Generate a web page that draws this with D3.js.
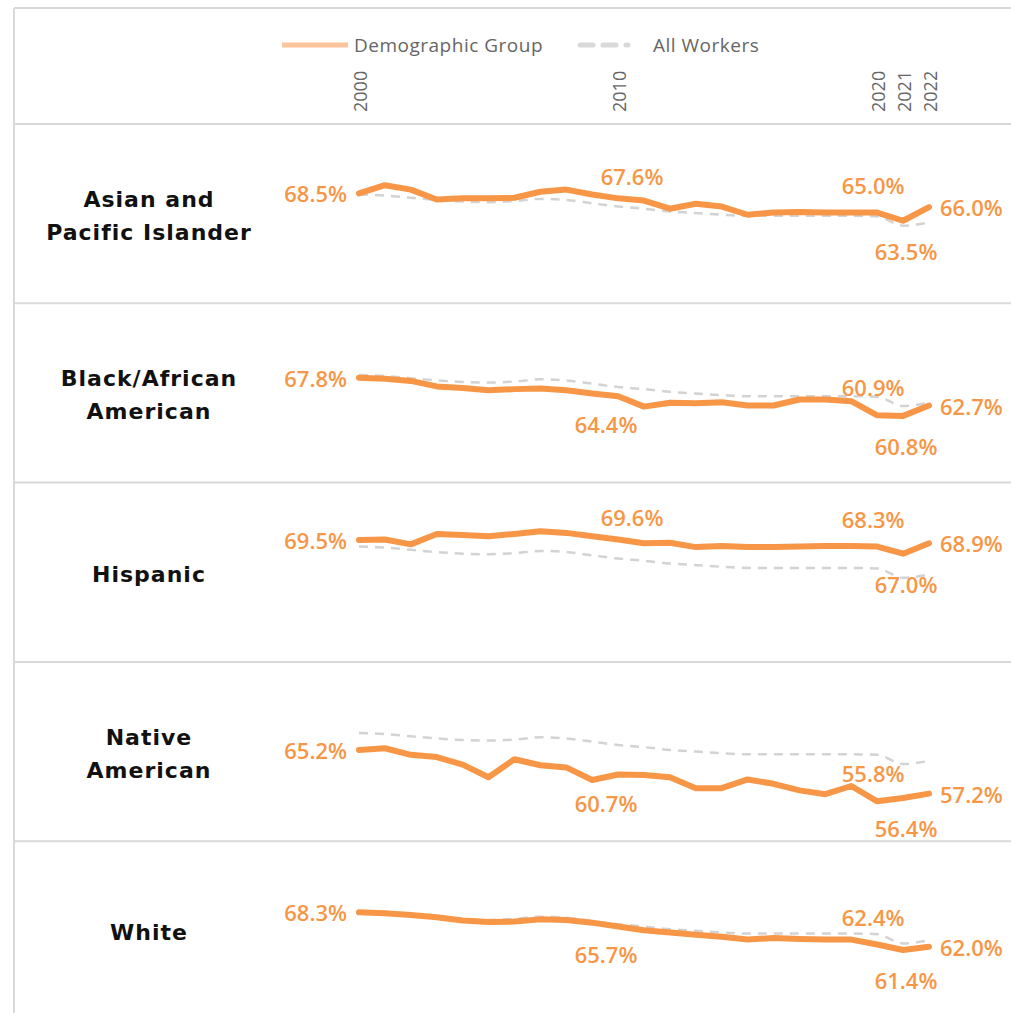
<!DOCTYPE html>
<html>
<head>
<meta charset="utf-8">
<script src="https://cdn.jsdelivr.net/npm/d3@7"></script>
<style>
  body { margin: 0; background: #ffffff; }
  .row-label { font-family: "DejaVu Sans", sans-serif; font-weight: bold; font-size: 22px; letter-spacing: 1px; fill: #111; }
  .val { font-family: "Open Sans", sans-serif; font-weight: 600; font-size: 22px; fill: #f79646; }
  .legend { font-family: "Open Sans", sans-serif; font-size: 19px; letter-spacing: 0.5px; fill: #666; }
  .year { font-family: "Open Sans", sans-serif; font-size: 18px; fill: #666; }
</style>
</head>
<body>
<div id="vis"></div>
<script>
const FRAME_WIDTH = 1011;
const FRAME_HEIGHT = 1013;

// data
const years = [2000, 2001, 2002, 2003, 2004, 2005, 2006, 2007, 2008, 2009, 2010,
               2011, 2012, 2013, 2014, 2015, 2016, 2017, 2018, 2019, 2020, 2021, 2022];
const tickYears = [2000, 2010, 2020, 2021, 2022];
const groups = ["Asian and|Pacific Islander", "Black/African|American", "Hispanic", "Native|American", "White"];

const asian    = [68.5, 70.0, 69.2, 67.4, 67.6, 67.6, 67.7, 68.8, 69.2, 68.3, 67.6, 67.2, 65.7, 66.6, 66.1, 64.6, 65.0, 65.1, 65.0, 65.0, 65.0, 63.5, 66.0];
const black    = [67.8, 67.6, 67.2, 66.2, 65.9, 65.5, 65.7, 65.8, 65.5, 64.9, 64.4, 62.5, 63.2, 63.1, 63.3, 62.7, 62.7, 63.8, 63.8, 63.5, 60.9, 60.8, 62.7];
const hispanic = [69.5, 69.6, 68.7, 70.6, 70.4, 70.2, 70.6, 71.1, 70.8, 70.2, 69.6, 68.9, 69.0, 68.2, 68.4, 68.2, 68.2, 68.3, 68.4, 68.4, 68.3, 67.0, 68.9];
const native   = [65.2, 65.5, 64.3, 63.9, 62.5, 60.2, 63.5, 62.4, 62.0, 59.7, 60.7, 60.6, 60.2, 58.2, 58.2, 59.8, 59.0, 57.8, 57.1, 58.6, 55.8, 56.4, 57.2];
const white    = [68.3, 68.1, 67.8, 67.4, 66.8, 66.5, 66.6, 67.0, 66.9, 66.4, 65.7, 65.0, 64.6, 64.2, 63.8, 63.3, 63.6, 63.4, 63.3, 63.3, 62.4, 61.4, 62.0];
const allWorkers = [68.3, 68.1, 67.7, 67.3, 67.0, 66.9, 67.1, 67.5, 67.3, 66.7, 66.1, 65.7, 65.2, 64.9, 64.6, 64.4, 64.4, 64.4, 64.4, 64.4, 64.3, 62.6, 63.2];
const series = [asian, black, hispanic, native, white];

// each panel has its own axis top (separate charts in the original)
const axisMax = [81.2, 81.4, 80.0, 81.3, 81.3];
const AXIS_SPAN = 32.8;
const labelYears = [2000, 2010, 2020, 2021, 2022];

const ROW_TOP = 124;
const ROW_H = 179.3;
const ORANGE = "#f79646";
const GRID = "#d9d9d9";

const svg = d3.select("#vis")
              .append("svg")
              .attr("width", FRAME_WIDTH)
              .attr("height", FRAME_HEIGHT);

const X = d3.scaleLinear().domain([2000, 2022]).range([359, 929]);

// frame lines
svg.append("line").attr("x1", 14).attr("x2", 14).attr("y1", 8).attr("y2", FRAME_HEIGHT)
   .attr("stroke", GRID).attr("stroke-width", 2);
svg.append("line").attr("x1", 14).attr("x2", FRAME_WIDTH).attr("y1", 8).attr("y2", 8)
   .attr("stroke", GRID).attr("stroke-width", 2);
groups.forEach((g, i) => {
  const y = ROW_TOP + i * ROW_H;
  svg.append("line").attr("x1", 14).attr("x2", FRAME_WIDTH).attr("y1", y).attr("y2", y)
     .attr("stroke", GRID).attr("stroke-width", 2);
});

// legend
const leg = svg.append("g");
leg.append("line").attr("x1", 282).attr("x2", 348).attr("y1", 45).attr("y2", 45)
   .attr("stroke", "#fbc49a").attr("stroke-width", 5);
leg.append("text").attr("class", "legend").attr("x", 354).attr("y", 45)
   .attr("dominant-baseline", "central").text("Demographic Group");
leg.append("line").attr("x1", 580).attr("x2", 628).attr("y1", 45).attr("y2", 45)
   .attr("stroke", GRID).attr("stroke-width", 5).attr("stroke-dasharray", "13,10")
   .attr("stroke-linecap", "round");
leg.append("text").attr("class", "legend").attr("x", 653).attr("y", 45)
   .attr("dominant-baseline", "central").text("All Workers");

// year ticks (rotated)
svg.selectAll(".year")
   .data(tickYears)
   .enter().append("text")
   .attr("class", "year")
   .attr("transform", d => "translate(" + (X(d) + 1) + ",112) rotate(-90)")
   .attr("dominant-baseline", "central")
   .attr("text-anchor", "start")
   .text(d => d);

// panels
series.forEach((vals, i) => {
  const top = ROW_TOP + i * ROW_H;
  const Y = d3.scaleLinear().domain([axisMax[i] - AXIS_SPAN, axisMax[i]]).range([top + ROW_H, top]);
  const g = svg.append("g");

  // group name
  const lines = groups[i].split("|");
  const cy = top + ROW_H / 2 + 2;
  lines.forEach((t, j) => {
    g.append("text").attr("class", "row-label")
     .attr("x", 149).attr("y", cy + (j - (lines.length - 1) / 2) * 33)
     .attr("text-anchor", "middle").attr("dominant-baseline", "central")
     .text(t);
  });

  const dashed = d3.line().x((d, k) => X(years[k])).y(d => Y(d)).curve(d3.curveMonotoneX);
  g.append("path").datum(allWorkers)
   .attr("d", dashed).attr("fill", "none")
   .attr("stroke", "#d3d3d3").attr("stroke-width", 2.5).attr("stroke-dasharray", "9,7");

  const solid = d3.line().x((d, k) => X(years[k])).y(d => Y(d));
  g.append("path").datum(vals)
   .attr("d", solid).attr("fill", "none")
   .attr("stroke", ORANGE).attr("stroke-width", 6)
   .attr("stroke-linejoin", "round").attr("stroke-linecap", "round");

  // data labels
  labelYears.forEach(yr => {
    const k = years.indexOf(yr);
    const v = vals[k];
    const px = X(yr), py = Y(v);
    let x = px, y = py, anchor = "middle";
    if (yr === 2000) { x = px - 12; anchor = "end"; }
    else if (yr === 2022) { x = px + 11; anchor = "start"; }
    else if (yr === 2010) {
      if (v >= allWorkers[k]) { x = px + 14; y = py - 22; }
      else { x = px - 12; y = py + 28; }
    }
    else if (yr === 2020) { x = px - 4; y = py - 28; }
    else if (yr === 2021) { x = px + 3; y = py + 30; }
    g.append("text").attr("class", "val")
     .attr("x", x).attr("y", y)
     .attr("text-anchor", anchor).attr("dominant-baseline", "central")
     .text(d3.format(".1f")(v) + "%");
  });
});
</script>
</body>
</html>
